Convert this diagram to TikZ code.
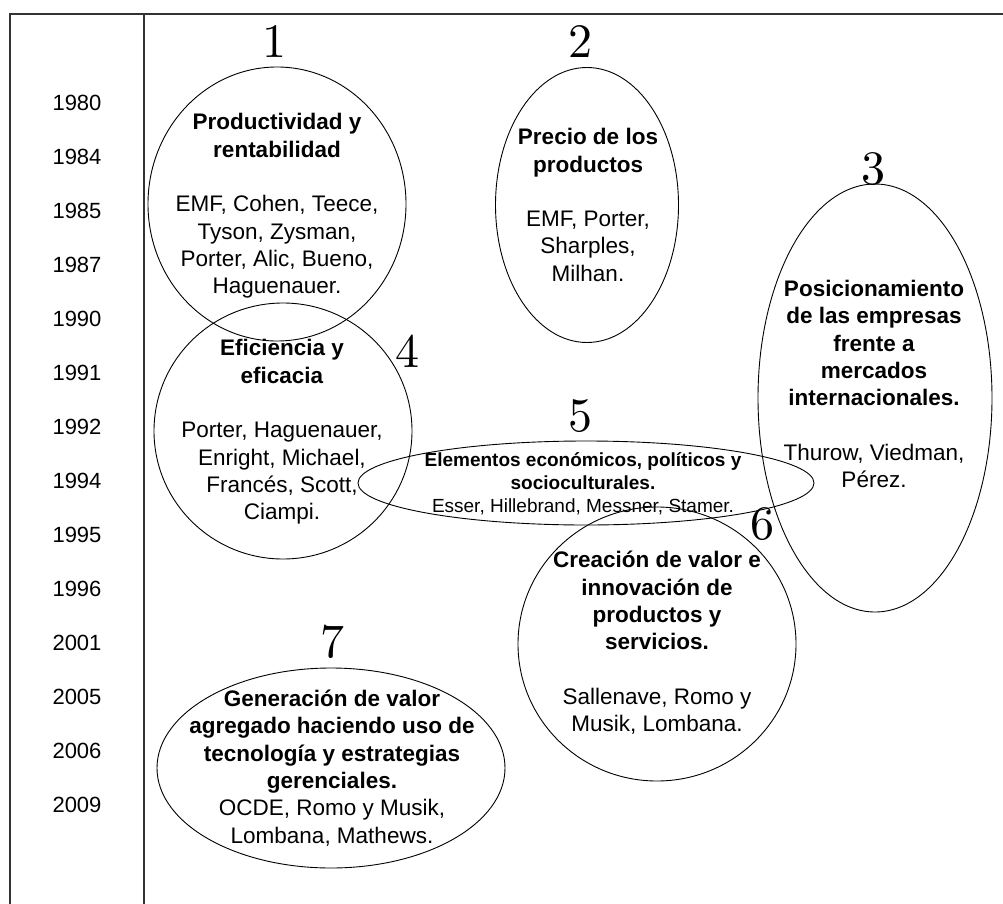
\documentclass[tikz,border=0pt]{standalone}
\usepackage{fontspec}
\usetikzlibrary{shapes.geometric}
\newfontfamily\arialfont{Liberation Sans}
\newfontfamily\numfont{lmroman10-regular.otf}

\tikzset{
  bubble/.style={draw=black, line width=0.9pt, ellipse, inner sep=0pt},
  bubbletext/.style={align=center, inner sep=0pt,
    font=\arialfont\fontsize{22.5}{27.3}\selectfont},
  smalltext/.style={align=center, inner sep=0pt,
    font=\arialfont\fontsize{19}{23}\selectfont},
  yearlabel/.style={inner sep=0pt, font=\arialfont\fontsize{22}{26}\selectfont},
  groupnum/.style={inner sep=0pt, font=\numfont\fontsize{48}{48}\selectfont},
  frameline/.style={draw=black!80, line width=1.6pt}
}

\begin{document}
\begin{tikzpicture}[x=1pt, y=-1pt]
\useasboundingbox (0,0) rectangle (1003,904);

% table frame and column divider
\coordinate (tl) at (10,14);
\coordinate (tr) at (1003,14);
\coordinate (bl) at (10,904);
\coordinate (dt) at (144,14);
\coordinate (db) at (144,904);
\draw[frameline] (bl) -- (tl) -- (tr);
\draw[frameline] (dt) -- (db);

% year column
\foreach \yr [count=\i] in {1980,1984,1985,1987,1990,1991,1992,1994,1995,1996,2001,2005,2006,2009}
  \node[yearlabel] (year\i) at (77,{103+54*(\i-1)}) {\yr};

% bubbles
\node[bubble, minimum width=258pt, minimum height=274pt] (e1) at (277,204) {};
\node[bubble, minimum width=183pt, minimum height=275pt] (e2) at (587,205) {};
\node[bubble, minimum width=234pt, minimum height=428pt] (e3) at (875,398) {};
\node[bubble, minimum width=258pt, minimum height=256pt] (e4) at (283,431) {};
\node[bubble, minimum width=456pt, minimum height=84pt] (e5) at (586,483) {};
\node[bubble, minimum width=278pt, minimum height=274pt] (e6) at (657,644) {};
\node[bubble, minimum width=348pt, minimum height=200pt] (e7) at (331,768) {};

% group numbers
\node[groupnum] (n1) at (274,42) {1};
\node[groupnum] (n2) at (580,42) {2};
\node[groupnum] (n3) at (873,169) {3};
\node[groupnum] (n4) at (407,351) {4};
\node[groupnum] (n5) at (580,416) {5};
\node[groupnum] (n6) at (762,524) {6};
\node[groupnum] (n7) at (332,642) {7};

% bubble contents
\node[bubbletext] (t1) at (277,206) {\textbf{Productividad y}\\\textbf{rentabilidad}\\[27.3pt]
  EMF, Cohen, Teece,\\Tyson, Zysman,\\Porter, Alic, Bueno,\\Haguenauer.};
\node[bubbletext] (t2) at (588,205) {\textbf{Precio de los}\\\textbf{productos}\\[27.3pt]
  EMF, Porter,\\Sharples,\\Milhan.};
\node[bubbletext] (t3) at (874,384) {\textbf{Posicionamiento}\\\textbf{de las empresas}\\\textbf{frente a}\\\textbf{mercados}\\\textbf{internacionales.}\\[27.3pt]
  Thurow, Viedman,\\Pérez.};
\node[bubbletext] (t4) at (282,432) {\textbf{Eficiencia y}\\\textbf{eficacia}\\[27.3pt]
  Porter, Haguenauer,\\Enright, Michael,\\Francés, Scott,\\Ciampi.};
\node[smalltext] (t5) at (583,484) {\textbf{Elementos económicos, políticos y}\\\textbf{socioculturales.}\\
  Esser, Hillebrand, Messner, Stamer.};
\node[bubbletext] (t6) at (657,643) {\textbf{Creación de valor e}\\\textbf{innovación de}\\\textbf{productos y}\\\textbf{servicios.}\\[27.3pt]
  Sallenave, Romo y\\Musik, Lombana.};
\node[bubbletext] (t7) at (332,768) {\textbf{Generación de valor}\\\textbf{agregado haciendo uso de}\\\textbf{tecnología y estrategias}\\\textbf{gerenciales.}\\
  OCDE, Romo y Musik,\\Lombana, Mathews.};
\end{tikzpicture}
\end{document}
